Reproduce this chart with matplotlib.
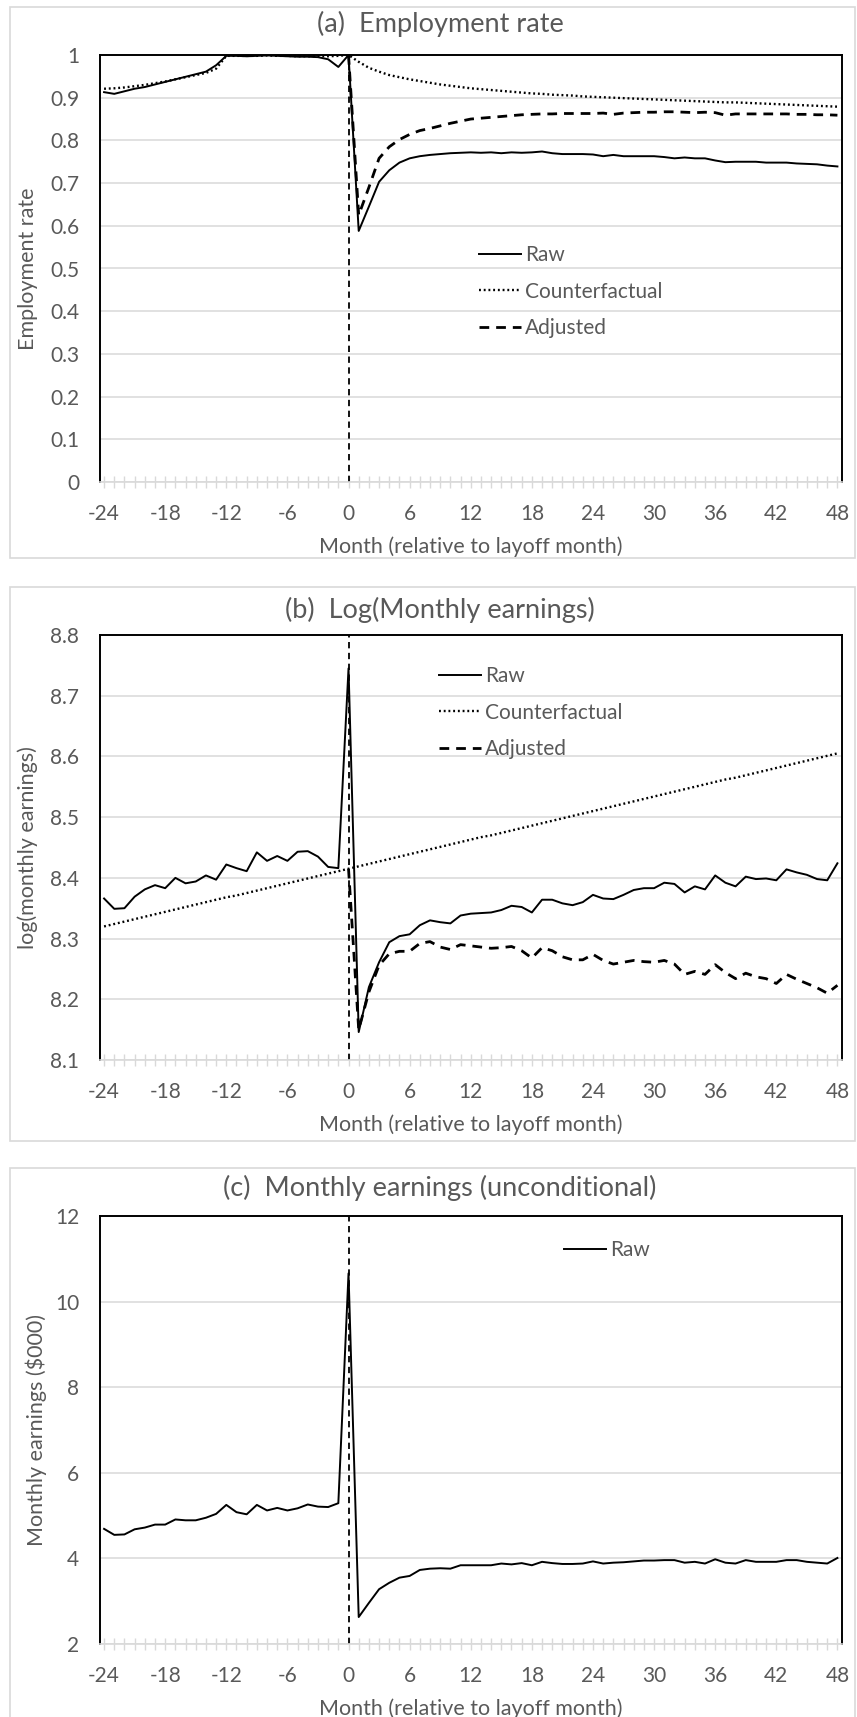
import matplotlib
matplotlib.use("Agg")
import matplotlib.pyplot as plt
from matplotlib.patches import Rectangle
from matplotlib.ticker import MultipleLocator, FuncFormatter
import numpy as np

plt.rcParams["font.family"] = ["Lato", "DejaVu Sans"]

# months relative to layoff
months = np.arange(-24, 49)

# (a) employment rate
emp_raw = [0.913, 0.909, 0.915, 0.921, 0.925, 0.931, 0.937, 0.943, 0.949, 0.955, 0.961, 0.976,
           0.998, 0.998, 0.997, 0.998, 0.999, 0.998, 0.997, 0.996, 0.996, 0.995, 0.990, 0.972,
           1.000,
           0.588, 0.645, 0.703, 0.730, 0.748, 0.758, 0.763, 0.766, 0.768, 0.770, 0.771,
           0.772, 0.771, 0.772, 0.770, 0.772, 0.771, 0.772, 0.774, 0.770, 0.768, 0.768, 0.768,
           0.767, 0.763, 0.766, 0.763, 0.763, 0.763, 0.763, 0.761, 0.758, 0.760, 0.758, 0.758,
           0.753, 0.749, 0.750, 0.750, 0.750, 0.748, 0.748, 0.748, 0.746, 0.745, 0.744, 0.741, 0.739]
emp_cf = [0.921, 0.922, 0.924, 0.927, 0.930, 0.934, 0.938, 0.943, 0.948, 0.953, 0.958, 0.968,
          0.998, 0.998, 0.998, 0.998, 0.999, 0.998, 0.998, 0.997, 0.997, 0.997, 0.997, 0.998,
          1.000,
          0.984, 0.970, 0.961, 0.953, 0.948, 0.943, 0.939, 0.935, 0.931, 0.928, 0.925,
          0.922, 0.920, 0.918, 0.916, 0.914, 0.912, 0.910, 0.909, 0.907, 0.906, 0.905, 0.903,
          0.902, 0.901, 0.900, 0.899, 0.898, 0.897, 0.896, 0.895, 0.894, 0.893, 0.892, 0.891,
          0.890, 0.889, 0.889, 0.888, 0.887, 0.886, 0.885, 0.884, 0.883, 0.882, 0.881, 0.880, 0.879]
emp_adj = [None] * 24 + [
          1.000,
          0.625, 0.690, 0.758, 0.785, 0.802, 0.814, 0.823, 0.828, 0.834, 0.840, 0.845,
          0.850, 0.852, 0.854, 0.856, 0.858, 0.860, 0.861, 0.862, 0.862, 0.863, 0.863, 0.863,
          0.863, 0.864, 0.861, 0.864, 0.865, 0.866, 0.866, 0.867, 0.867, 0.866, 0.865, 0.866,
          0.865, 0.859, 0.862, 0.862, 0.862, 0.862, 0.862, 0.862, 0.861, 0.861, 0.860, 0.860, 0.859]

# (b) log monthly earnings
log_raw = [8.366, 8.349, 8.350, 8.369, 8.381, 8.388, 8.383, 8.400, 8.391, 8.394, 8.404, 8.397,
           8.422, 8.416, 8.411, 8.442, 8.428, 8.436, 8.428, 8.443, 8.444, 8.435, 8.418, 8.416,
           8.745,
           8.146, 8.220, 8.261, 8.294, 8.304, 8.307, 8.322, 8.330, 8.327, 8.325, 8.338,
           8.341, 8.342, 8.343, 8.347, 8.354, 8.352, 8.343, 8.364, 8.364, 8.358, 8.355, 8.360,
           8.372, 8.366, 8.365, 8.372, 8.380, 8.383, 8.383, 8.392, 8.390, 8.376, 8.386, 8.381,
           8.404, 8.392, 8.386, 8.402, 8.398, 8.399, 8.396, 8.414, 8.409, 8.405, 8.398, 8.396, 8.424]
log_cf = [8.320, 8.324, 8.328, 8.332, 8.336, 8.340, 8.344, 8.348, 8.352, 8.356, 8.360, 8.364,
          8.368, 8.371, 8.375, 8.379, 8.383, 8.387, 8.391, 8.395, 8.399, 8.403, 8.407, 8.411,
          8.415,
          8.419, 8.423, 8.427, 8.431, 8.435, 8.439, 8.443, 8.447, 8.451, 8.455, 8.459,
          8.463, 8.467, 8.470, 8.474, 8.478, 8.482, 8.486, 8.490, 8.494, 8.498, 8.502, 8.506,
          8.510, 8.514, 8.518, 8.522, 8.526, 8.530, 8.534, 8.538, 8.542, 8.546, 8.550, 8.554,
          8.558, 8.562, 8.565, 8.569, 8.573, 8.577, 8.581, 8.585, 8.589, 8.593, 8.597, 8.601, 8.605]
log_adj = [None] * 24 + [
          8.415,
          8.150, 8.212, 8.256, 8.275, 8.279, 8.279, 8.292, 8.295, 8.286, 8.282, 8.290,
          8.288, 8.286, 8.284, 8.285, 8.287, 8.280, 8.268, 8.285, 8.280, 8.270, 8.265, 8.265,
          8.274, 8.264, 8.258, 8.261, 8.264, 8.262, 8.261, 8.264, 8.258, 8.241, 8.246, 8.241,
          8.257, 8.244, 8.234, 8.243, 8.237, 8.234, 8.226, 8.241, 8.233, 8.226, 8.219, 8.210, 8.223]

# (c) monthly earnings ($000)
earn_raw = [4.69, 4.55, 4.56, 4.68, 4.72, 4.79, 4.79, 4.91, 4.89, 4.89, 4.95, 5.04,
            5.25, 5.08, 5.03, 5.25, 5.12, 5.18, 5.12, 5.17, 5.26, 5.21, 5.20, 5.29,
            10.66,
            2.63, 2.96, 3.28, 3.43, 3.55, 3.59, 3.73, 3.76, 3.77, 3.76, 3.84,
            3.84, 3.84, 3.84, 3.88, 3.86, 3.89, 3.84, 3.92, 3.89, 3.87, 3.87, 3.88,
            3.93, 3.88, 3.90, 3.91, 3.93, 3.95, 3.95, 3.96, 3.96, 3.90, 3.92, 3.88,
            3.98, 3.90, 3.88, 3.96, 3.92, 3.92, 3.92, 3.96, 3.96, 3.92, 3.90, 3.88, 4.01]

GRAY = "#595959"
GRID = "#d9d9d9"
W, H = 857, 1717
TICK_FS = 15
LAB_FS = 15.5
TITLE_FS = 19.5

fig = plt.figure(figsize=(W / 100, H / 100), dpi=100)


def px_box(x0, y0, x1, y1):
    # pixel box (top-left origin) -> figure fraction rect
    return [x0 / W, 1 - y1 / H, (x1 - x0) / W, (y1 - y0) / H]


def to_num(vals):
    return np.array([np.nan if v is None else v for v in vals], dtype=float)


def panel(frame, axbox, title, title_y, ylabel, ylab_x, ylim, ystep, yfmt):
    fr = Rectangle((frame[0] / W, 1 - frame[3] / H), (frame[2] - frame[0]) / W,
                   (frame[3] - frame[1]) / H, transform=fig.transFigure,
                   fill=False, edgecolor=GRID, lw=1.2)
    fig.patches.append(fr)
    fig.text(440 / W, 1 - title_y / H, title, ha="center", va="center",
             fontsize=TITLE_FS, color=GRAY)
    ax = fig.add_axes(px_box(*axbox))
    ax.set_xlim(-24.4, 48.45)
    ax.set_ylim(*ylim)
    ax.yaxis.set_major_locator(MultipleLocator(ystep))
    ax.yaxis.set_major_formatter(FuncFormatter(yfmt))
    ax.xaxis.set_major_locator(MultipleLocator(1))
    ax.xaxis.set_major_formatter(FuncFormatter(lambda v, p: "%d" % v if round(v) % 6 == 0 else ""))
    ax.grid(axis="y", color=GRID, lw=1.1)
    ax.set_axisbelow(True)
    for s in ["left", "top", "right"]:
        ax.spines[s].set_color("black")
        ax.spines[s].set_linewidth(1.4)
    ax.spines["bottom"].set_color(GRID)
    ax.spines["bottom"].set_linewidth(1.2)
    ax.tick_params(axis="y", length=0, pad=15, labelsize=TICK_FS, labelcolor=GRAY)
    ax.tick_params(axis="x", direction="inout", length=9, width=1, color=GRID,
                   pad=11, labelsize=TICK_FS, labelcolor=GRAY)
    ax.set_xlabel("Month (relative to layoff month)", fontsize=LAB_FS, color=GRAY, labelpad=9)
    ax.set_ylabel(ylabel, fontsize=LAB_FS, color=GRAY)
    ax.yaxis.set_label_coords(ylab_x, 0.5)
    ax.axvline(0, color="black", lw=1.3, dashes=(3.5, 2.5), zorder=1)
    return ax


def dec1(v, p):
    return "0" if abs(v) < 1e-9 else ("1" if abs(v - 1) < 1e-9 else "%.1f" % v)


leg_kw = dict(bbox_transform=fig.transFigure, loc="upper left", frameon=False,
              fontsize=TICK_FS, labelcolor=GRAY, handlelength=2.0, handletextpad=0.2,
              labelspacing=0.8, borderpad=0, borderaxespad=0)

# panel (a)
ax1 = panel((10, 7, 855, 558), (100, 55, 842, 482), "(a)  Employment rate", 24,
            "Employment rate", -0.084, (0, 1), 0.1, dec1)
ax1.plot(months, emp_raw, color="black", lw=1.4, label="Raw", zorder=3)
ax1.plot(months, emp_cf, color="black", lw=1.7, ls=(0, (0.8, 1.2)), label="Counterfactual", zorder=3)
ax1.plot(months, to_num(emp_adj), color="black", lw=2.0, ls=(0, (3.5, 2.5)), label="Adjusted", zorder=3)
ax1.legend(bbox_to_anchor=(479 / W, 1 - 245 / H), **leg_kw)

# panel (b)
ax2 = panel((10, 587, 855, 1141), (100, 635, 842, 1060), "(b)  Log(Monthly earnings)", 610,
            "log(monthly earnings)", -0.084, (8.1, 8.8), 0.1, lambda v, p: "%.1f" % v)
ax2.plot(months, log_raw, color="black", lw=1.4, label="Raw", zorder=3)
ax2.plot(months, log_cf, color="black", lw=1.7, ls=(0, (0.8, 1.2)), label="Counterfactual", zorder=3)
ax2.plot(months, to_num(log_adj), color="black", lw=2.0, ls=(0, (3.5, 2.5)), label="Adjusted", zorder=3)
ax2.legend(bbox_to_anchor=(439 / W, 1 - 666 / H), **leg_kw)

# panel (c)
ax3 = panel((10, 1168, 855, 1730), (100, 1216, 842, 1644), "(c)  Monthly earnings (unconditional)", 1188,
            "Monthly earnings ($000)", -0.072, (2, 12), 2, lambda v, p: "%d" % v)
ax3.plot(months, earn_raw, color="black", lw=1.4, label="Raw", zorder=3)
ax3.legend(bbox_to_anchor=(564 / W, 1 - 1240 / H), **leg_kw)

fig.savefig("out.png", dpi=100)
